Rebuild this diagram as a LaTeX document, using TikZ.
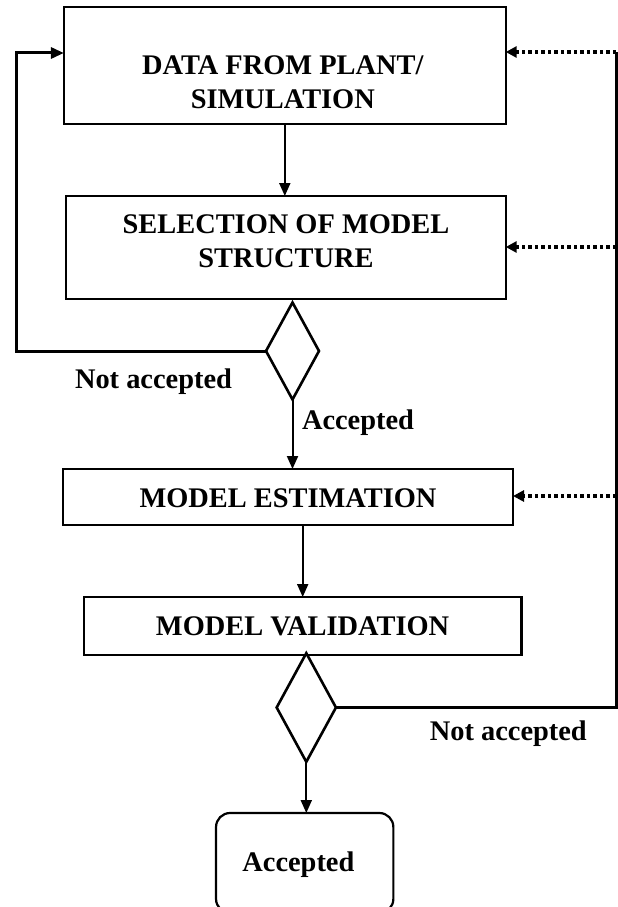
\documentclass[tikz,border=0pt]{standalone}
\usepackage{fontspec}
\setmainfont{Liberation Serif}
\usetikzlibrary{shapes.geometric,arrows.meta}
\begin{document}
\begin{tikzpicture}[x=1pt,y=-1pt,
  box/.style={draw,line width=2.2pt,rectangle,inner sep=0pt,outer sep=0pt},
  dec/.style={draw,diamond,line width=2.6pt,inner sep=0pt,outer sep=0pt},
  txt/.style={font=\fontsize{28.4}{34}\selectfont\bfseries,align=center,inner sep=0pt,anchor=base},
  arr/.style={line width=2pt,-{Triangle[length=13pt,width=11pt]}},
  loopline/.style={line width=3pt},
  fb/.style={line width=3.2pt,dash pattern=on 3.5pt off 3pt,-{Triangle[length=11pt,width=11pt]}}]
\useasboundingbox (0,0) rectangle (618,907);

\node[box,minimum width=441.8pt,minimum height=117pt] (b1) at (284.8,65.5) {};
\node[txt] (t1) at (282.8,108) {DATA FROM PLANT/\\SIMULATION};
\node[box,minimum width=440pt,minimum height=103pt] (b2) at (285.7,247.5) {};
\node[txt] (t2) at (286,267) {SELECTION OF MODEL\\STRUCTURE};
\node[dec,minimum width=53pt,minimum height=97pt] (d1) at (292.5,351) {};
\node[box,minimum width=450pt,minimum height=56pt] (b3) at (288,497) {};
\node[txt] (t3) at (288,507) {MODEL ESTIMATION};
\node[box,minimum width=437.5pt,minimum height=58pt] (b4) at (302.7,626) {};
\node[txt] (t4) at (302.6,635) {MODEL VALIDATION};
\node[dec,minimum width=59.3pt,minimum height=108.7pt] (d2) at (306.3,707.5) {};
\begin{scope}
\clip (0,0) rectangle (618,907);
\node[box,rounded corners=14pt,minimum width=177.3pt,minimum height=100pt] (acc) at (304.7,863) {};
\end{scope}
\node[txt] (t5) at (298.4,871) {Accepted};

\node[txt] (l1) at (153.5,388) {Not accepted};
\node[txt] (l2) at (358,429) {Accepted};
\node[txt] (l3) at (508.3,740) {Not accepted};

\draw[arr] (b1.south) -- (b1.south |- b2.north);
\draw[arr] (d1.south) -- (d1.south |- b3.north);
\draw[arr] (b4.north |- b3.south) -- (b4.north);
\draw[arr] (d2.south) -- (d2.south |- acc.north);

\coordinate (lc) at (16.6,53);
\draw[loopline,-{Triangle[length=13pt,width=11pt]}] (d1.west) -| (lc) -- (lc -| b1.west);

\coordinate (rc) at (616,52);
\coordinate (r2) at (616,247);
\coordinate (r3) at (616,496);
\draw[loopline] (d2.east) -| (rc);
\draw[fb] (rc) -- (rc -| b1.east);
\draw[fb] (r2) -- (r2 -| b2.east);
\draw[fb] (r3) -- (r3 -| b3.east);
\end{tikzpicture}
\end{document}
